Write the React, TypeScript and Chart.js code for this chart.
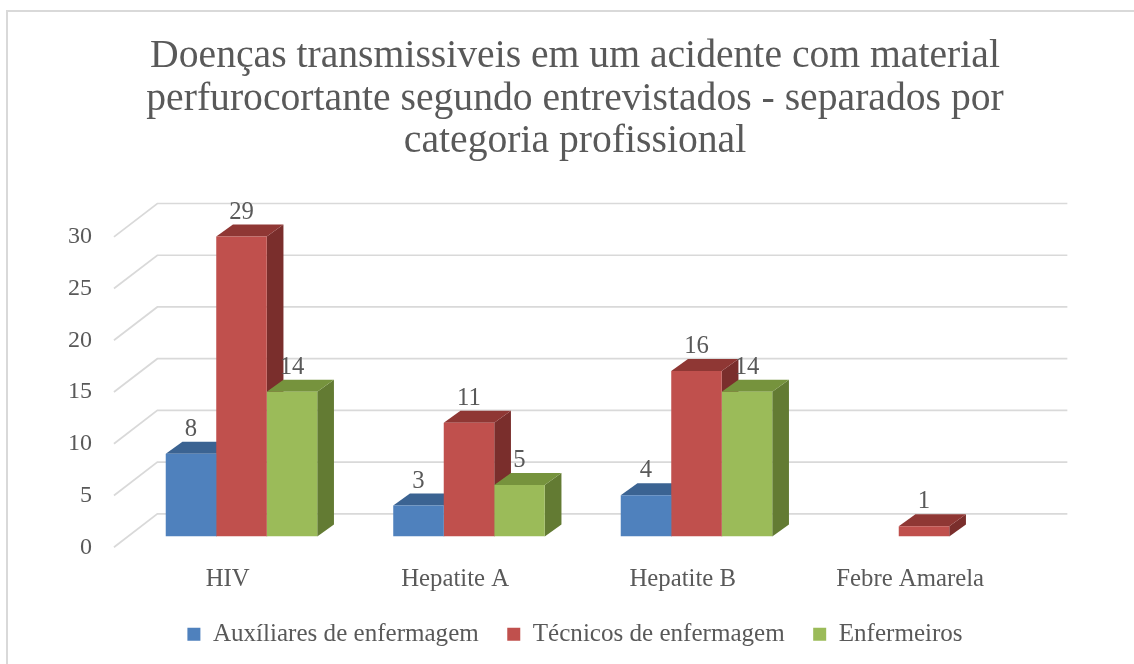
import React, { useEffect, useRef } from 'react';
import { Chart, registerables } from 'chart.js';

Chart.register(...registerables);

// ---------- data ----------
const categories = ['HIV', 'Hepatite A', 'Hepatite B', 'Febre Amarela'];
const seriesNames = ['Auxíliares de enfermagem', 'Técnicos de enfermagem', 'Enfermeiros'];
const auxiliares: (number | null)[] = [8, 3, 4, null];
const tecnicos: (number | null)[] = [29, 11, 16, 1];
const enfermeiros: (number | null)[] = [14, 5, 14, null];
const yMin = 0;
const yMax = 30;
const yStep = 5;
const titleLines = [
  'Doenças transmissiveis em um acidente com material',
  'perfurocortante segundo entrevistados - separados por',
  'categoria profissional',
];

// ---------- styles ----------
const frontColors = ['#4F81BD', '#C0504D', '#9BBB59'];
const topColors = ['#3B6392', '#8F3734', '#76933D'];
const sideColors = ['#345885', '#7A2E2C', '#637B33'];
const TEXT = '#595959';
const GRID = '#D9D9D9';
const FAMILY = '"Liberation Serif", "Times New Roman", serif';

const W = 1134;
const H = 664;

// 3D geometry (pixels)
const BAR_DX = 16.7;
const BAR_DY = 12;
const FLOOR_FRONT_DX = -13.8;
const FLOOR_FRONT_DY = 10.6;
const WALL_DX = 29.6;
const WALL_DY = -22.7;

function fitSize(text: string, target: number): number {
  const c = document.createElement('canvas').getContext('2d')!;
  c.font = `100px ${FAMILY}`;
  return (100 * target) / c.measureText(text).width;
}

const threeD = {
  id: 'threeD',
  beforeDraw(chart: any) {
    const ctx = chart.ctx;
    ctx.save();
    ctx.fillStyle = '#FFFFFF';
    ctx.fillRect(0, 0, W, H);
    ctx.fillStyle = GRID;
    ctx.fillRect(6, 10, 2, H);
    ctx.fillRect(6, 10, W, 2);
    ctx.restore();
  },
  beforeDatasetsDraw(chart: any) {
    const ctx = chart.ctx;
    const y = chart.scales.y;
    const { left, right } = chart.chartArea;
    ctx.save();
    ctx.strokeStyle = GRID;
    ctx.lineWidth = 1.7;
    for (let v = yMin; v <= yMax; v += yStep) {
      const py = y.getPixelForValue(v);
      ctx.beginPath();
      ctx.moveTo(left + FLOOR_FRONT_DX, py + FLOOR_FRONT_DY);
      ctx.lineTo(left + WALL_DX, py + WALL_DY);
      ctx.lineTo(right + WALL_DX, py + WALL_DY);
      ctx.stroke();
    }
    // top and side faces
    const n = chart.data.labels.length;
    for (let j = 0; j < n; j++) {
      chart.data.datasets.forEach((ds: any, i: number) => {
        const v = ds.data[j];
        if (v === null || v === undefined || v === 0) return;
        const el = chart.getDatasetMeta(i).data[j];
        const l = el.x - el.width / 2;
        const r = el.x + el.width / 2;
        const t = el.y;
        const b = el.base;
        ctx.fillStyle = sideColors[i];
        ctx.beginPath();
        ctx.moveTo(r, t);
        ctx.lineTo(r + BAR_DX, t - BAR_DY);
        ctx.lineTo(r + BAR_DX, b - BAR_DY);
        ctx.lineTo(r, b);
        ctx.closePath();
        ctx.fill();
        ctx.fillStyle = topColors[i];
        ctx.beginPath();
        ctx.moveTo(l, t);
        ctx.lineTo(r, t);
        ctx.lineTo(r + BAR_DX, t - BAR_DY);
        ctx.lineTo(l + BAR_DX, t - BAR_DY);
        ctx.closePath();
        ctx.fill();
      });
    }
    ctx.restore();
  },
  afterDatasetsDraw(chart: any) {
    const ctx = chart.ctx;
    const size = fitSize('29', 24.7);
    ctx.save();
    ctx.fillStyle = TEXT;
    ctx.font = `${size}px ${FAMILY}`;
    ctx.textAlign = 'center';
    ctx.textBaseline = 'middle';
    chart.data.datasets.forEach((ds: any, i: number) => {
      const meta = chart.getDatasetMeta(i);
      ds.data.forEach((v: number | null, j: number) => {
        if (v === null || v === undefined) return;
        const el = meta.data[j];
        ctx.fillText(String(v), el.x, el.y - 24.5);
      });
    });
    ctx.restore();
  },
};

export default function App() {
  const ref = useRef<HTMLCanvasElement | null>(null);
  useEffect(() => {
    document.body.style.margin = '0';
    const canvas = ref.current!;
    const titleSize = fitSize(titleLines[0], 850);
    const catSize = fitSize('Hepatite A', 108);
    const tickSize = fitSize('30', 24);
    const legendSize = fitSize(seriesNames[0], 266);
    const values = [auxiliares, tecnicos, enfermeiros];
    const chart = new Chart(canvas, {
      type: 'bar',
      data: {
        labels: categories,
        datasets: seriesNames.map((name, i) => ({
          label: name,
          data: values[i],
          backgroundColor: frontColors[i],
          borderWidth: 0,
          categoryPercentage: 0.666,
          barPercentage: 1,
          yAxisID: 'y',
        })),
      },
      options: {
        responsive: false,
        animation: false,
        devicePixelRatio: 1,
        layout: { padding: { left: 60, right: 44, top: 0, bottom: 7.2 } },
        scales: {
          x: {
            grid: { display: false, drawTicks: false },
            border: { display: false },
            ticks: {
              color: TEXT,
              font: { family: FAMILY, size: catSize },
              padding: 28.2,
              labelOffset: -13.8,
              maxRotation: 0,
              autoSkip: false,
            },
            afterFit: (s: any) => {
              s.height = 56.6;
            },
          },
          y: {
            min: yMin,
            max: yMax,
            position: 'left',
            grid: { display: false, drawTicks: false },
            border: { display: false },
            ticks: {
              stepSize: yStep,
              color: TEXT,
              font: { family: FAMILY, size: tickSize },
              padding: 35.75,
              labelOffset: 10.7,
            },
            afterFit: (s: any) => {
              s.width = 67.75;
            },
          },
          yRight: {
            type: 'linear',
            position: 'right',
            display: true,
            grid: { display: false, drawTicks: false },
            border: { display: false },
            ticks: { display: false },
            afterFit: (s: any) => {
              s.width = 52.25;
            },
          },
        },
        plugins: {
          title: {
            display: true,
            text: titleLines,
            color: TEXT,
            font: { family: FAMILY, size: titleSize, weight: 'normal', lineHeight: '42.5px' } as any,
            padding: { top: 35.5, bottom: 63.2 },
          },
          legend: {
            position: 'bottom',
            labels: {
              color: TEXT,
              font: { family: FAMILY, size: legendSize },
              boxWidth: 13,
              boxHeight: 13,
              padding: 28.5,
            },
          },
          tooltip: { enabled: false },
        },
      },
      plugins: [threeD],
    });
    return () => chart.destroy();
  }, []);
  return (
    <div style={{ width: W, height: H }}>
      <canvas ref={ref} width={W} height={H} style={{ display: 'block' }} />
    </div>
  );
}
